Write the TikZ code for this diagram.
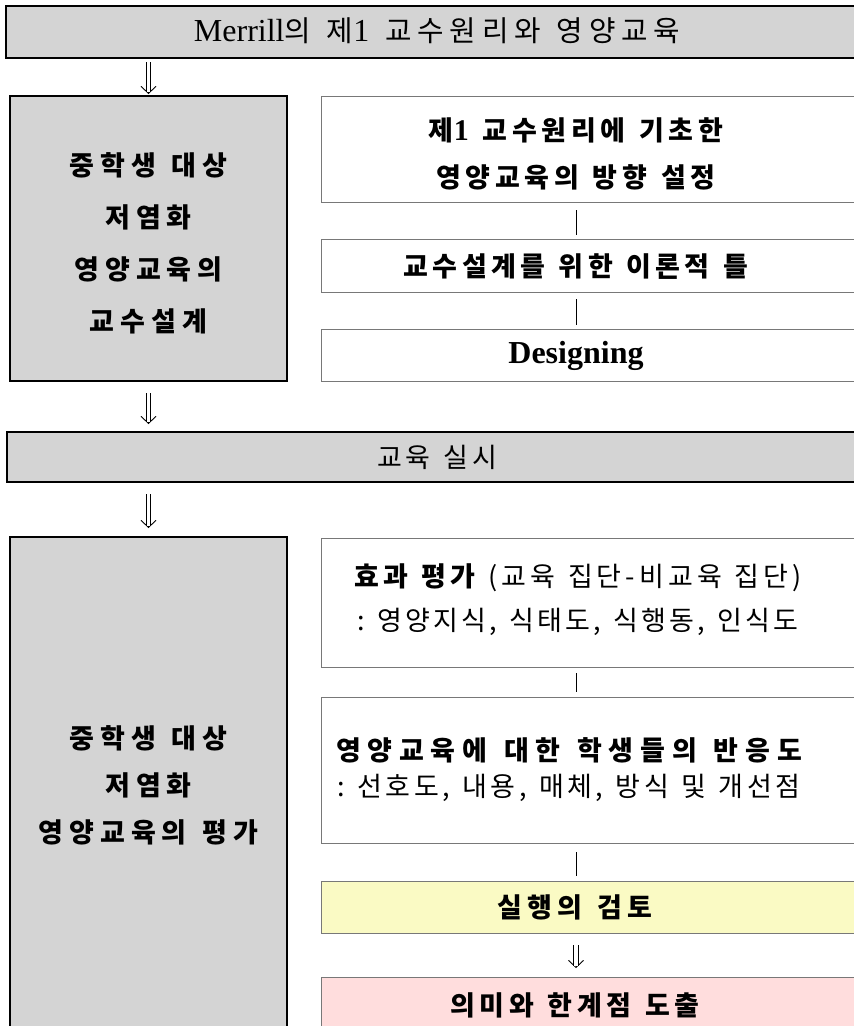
\documentclass[tikz,border=0pt]{standalone}
\usepackage{fontspec}
\setmainfont{Liberation Serif}
\newfontfamily\kr{Noto Sans CJK KR}[Scale=0.9,WordSpace=1.3]
\usetikzlibrary{arrows.meta}
\definecolor{boxgray}{RGB}{212,212,212}
\definecolor{edgegray}{RGB}{120,120,120}
\definecolor{lightyellow}{RGB}{250,250,196}
\definecolor{lightpink}{RGB}{255,221,221}
\newcommand\K[2][14]{{\kr\addfontfeatures{LetterSpace=#1}#2}}
\begin{document}
\begin{tikzpicture}[x=1pt,y=-1pt,
  graybox/.style={draw=black,line width=2.6pt,fill=boxgray,inner sep=0pt,outer sep=0pt},
  whitebox/.style={draw=edgegray,line width=1pt,inner sep=0pt,outer sep=0pt},
  txt/.style={inner sep=0pt,align=center,font=\fontsize{30}{46}\selectfont},
  link/.style={line width=1pt},
  tiphead/.style={line width=0.9pt,-{Straight Barb[length=7pt,width=15pt]}},
  dblshaft/.style={double,double distance=3.4pt,line width=0.9pt}]
\useasboundingbox (0,0) rectangle (854,1026);
\clip (0,0) rectangle (854,1026);
% boxes
\node[graybox,minimum width=870,minimum height=52] (top) at (441,32) {};
\node[graybox,minimum width=277,minimum height=285] (L1) at (148.5,238.5) {};
\node[whitebox,fill=white,minimum width=560,minimum height=106] (R1) at (601,149) {};
\node[whitebox,fill=white,minimum width=560,minimum height=53] (R2) at (601,265.5) {};
\node[whitebox,fill=white,minimum width=560,minimum height=52] (R3) at (601,355) {};
\node[graybox,minimum width=870,minimum height=50] (mid) at (442,457) {};
\node[graybox,minimum width=277,minimum height=503] (L2) at (148.5,788.5) {};
\node[whitebox,fill=white,minimum width=560,minimum height=129] (RA) at (601,602.5) {};
\node[whitebox,fill=white,minimum width=560,minimum height=146] (RB) at (601,770) {};
\node[whitebox,fill=lightyellow,minimum width=560,minimum height=52] (RC) at (601,907) {};
\node[whitebox,fill=lightpink,minimum width=560,minimum height=70] (RD) at (601,1012) {};
% texts
\node[txt,font=\fontsize{32}{46}\selectfont] (toptxt) at (437,31) {Merrill\K[20]{의\ 제}1\K[20]{\ 교수원리와 영양교육}};
\node[txt,font=\fontsize{30}{52}\selectfont\bfseries] (L1t) at (148.5,243.5) {\K[22]{중학생 대상}\\\K[22]{저염화}\\\K[22]{영양교육의}\\\K[22]{교수설계}};
\node[txt,font=\fontsize{30}{47}\selectfont\bfseries] (R1t) at (576,153.5) {\K[17]{제}1\K[17]{\ 교수원리에 기초한}\\\K[17]{영양교육의 방향 설정}};
\node[txt,font=\fontsize{30}{46}\selectfont\bfseries] (R2t) at (576,267) {\K[16]{교수설계를 위한 이론적 틀}};
\node[txt,font=\fontsize{32}{46}\selectfont\bfseries] (R3t) at (576,356) {Designing};
\node[txt] (midt) at (437,457) {\K{교육 실시}};
\node[txt,font=\fontsize{30}{47}\selectfont\bfseries] (L2t) at (148.5,785) {\K[22]{중학생 대상}\\\K[22]{저염화}\\\K[22]{영양교육의 평가}};
\node[txt,font=\fontsize{30}{44}\selectfont] (RAt) at (578,600) {{\bfseries\K[15]{효과 평가}}\K[15]{\ (교육 집단-비교육 집단)}\\\K[12]{:\ 영양지식, 식태도, 식행동, 인식도}};
\node[txt,font=\fontsize{30}{36}\selectfont] (RBt) at (569,770) {{\bfseries\K[25]{영양교육에 대한 학생들의 반응도}}\\\K[13]{:\ 선호도, 내용, 매체, 방식 및 개선점}};
\node[txt,font=\fontsize{30}{46}\selectfont\bfseries] (RCt) at (575,907) {\K[19]{실행의 검토}};
\node[txt,font=\fontsize{30}{46}\selectfont\bfseries] (RDt) at (575,1005) {\K[17]{의미와 한계점 도출}};
% connectors: double arrows (head first, shaft over it)
\draw[tiphead,shorten <=4pt,shorten >=2pt] (top.south -| L1.north) -- (L1.north);
\draw[dblshaft,shorten <=4pt,shorten >=4.5pt] (top.south -| L1.north) -- (L1.north);
\draw[tiphead,shorten <=12pt,shorten >=8pt] (L1.south) -- (mid.north -| L1.south);
\draw[dblshaft,shorten <=12pt,shorten >=10.5pt] (L1.south) -- (mid.north -| L1.south);
\draw[tiphead,shorten <=12pt,shorten >=9pt] (mid.south -| L2.north) -- (L2.north);
\draw[dblshaft,shorten <=12pt,shorten >=11.5pt] (mid.south -| L2.north) -- (L2.north);
\draw[tiphead,shorten <=12pt,shorten >=9pt] (RC.south -| R1t.south) -- (RD.north -| R1t.south);
\draw[dblshaft,shorten <=12pt,shorten >=11.5pt] (RC.south -| R1t.south) -- (RD.north -| R1t.south);
% plain links
\draw[link,shorten <=8pt,shorten >=4pt] (R1.south -| R1t.south) -- (R2.north -| R1t.south);
\draw[link,shorten <=7pt,shorten >=4pt] (R2.south -| R1t.south) -- (R3.north -| R1t.south);
\draw[link,shorten <=6pt,shorten >=5pt] (RA.south -| R1t.south) -- (RB.north -| R1t.south);
\draw[link,shorten <=9pt,shorten >=5pt] (RB.south -| R1t.south) -- (RC.north -| R1t.south);
\end{tikzpicture}
\end{document}
